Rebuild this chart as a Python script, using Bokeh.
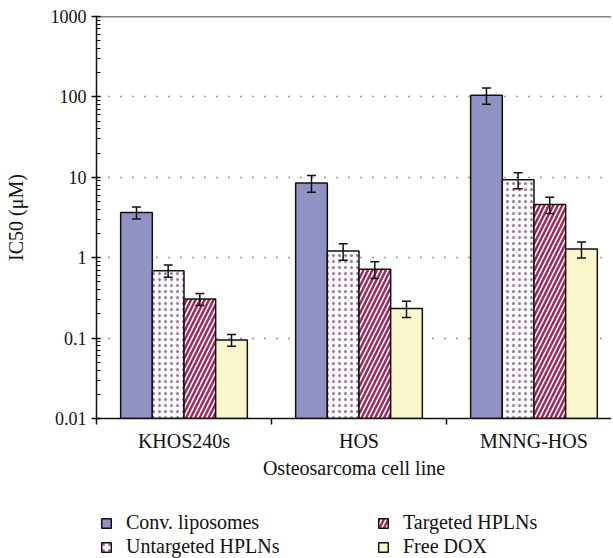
from bokeh.plotting import figure
from bokeh.layouts import column
from bokeh.models import (ColumnDataSource, Whisker, TeeHead, FixedTicker, Span,
                          Legend, LegendItem, CustomJSTickFormatter, Range1d)
from bokeh.embed import file_html
from bokeh.resources import INLINE

cell_lines = ["KHOS240s", "HOS", "MNNG-HOS"]
series = ["Conv. liposomes", "Untargeted HPLNs", "Targeted HPLNs", "Free DOX"]

conv = [3.66, 8.5, 105.0]
untargeted = [0.69, 1.21, 9.3]
targeted = [0.306, 0.72, 4.6]
free_dox = [0.095, 0.234, 1.28]

conv_err = [0.62, 2.0, 24.0]
untargeted_err = [0.12, 0.28, 2.1]
targeted_err = [0.052, 0.17, 1.05]
free_dox_err = [0.016, 0.054, 0.29]

y_ticks = [0.01, 0.1, 1, 10, 100, 1000]

values = [conv, untargeted, targeted, free_dox]
errors = [conv_err, untargeted_err, targeted_err, free_dox_err]

FONT = "Liberation Serif"
BAR_W = 0.181

p = figure(frame_width=515, frame_height=402, y_axis_type="log", output_backend="svg",
           toolbar_location=None, x_range=Range1d(0, 2.943),
           y_range=Range1d(0.01, 1000),
           min_border_left=96, min_border_right=0, min_border_top=16, min_border_bottom=80)
p.outline_line_color = None
p.background_fill_color = "white"
p.border_fill_color = "white"

styles = [
    dict(fill_color="#9191C3"),
    dict(fill_color="white", hatch_pattern=".", hatch_color="#A070A8", hatch_scale=6, hatch_weight=0.7),
    dict(fill_color="white", hatch_pattern="/", hatch_color="#A0285A", hatch_scale=9, hatch_weight=2.5),
    dict(fill_color="#FAF7CD"),
]

for j, (vals, errs, st) in enumerate(zip(values, errors, styles)):
    xs = [i + 0.5 + (j - 1.5) * BAR_W for i in range(len(cell_lines))]
    src = ColumnDataSource(dict(x=xs, top=vals,
                                upper=[v + e for v, e in zip(vals, errs)],
                                lower=[v - e for v, e in zip(vals, errs)]))
    p.vbar(x="x", top="top", bottom=0.01, width=BAR_W, source=src,
           line_color="#111111", line_width=1.5, **st)
    w = Whisker(base="x", upper="upper", lower="lower", source=src, level="annotation",
                line_color="#111111", line_width=1.5,
                upper_head=TeeHead(size=9, line_color="#111111", line_width=1.5),
                lower_head=TeeHead(size=9, line_color="#111111", line_width=1.5))
    p.add_layout(w)

# y axis
yax = p.yaxis[0]
yax.formatter = CustomJSTickFormatter(code="return String(Number(tick.toPrecision(6)));")
yax.axis_label = "IC50 (\u03bcM)"
yax.axis_label_text_font = FONT
yax.axis_label_text_font_style = "normal"
yax.axis_label_text_font_size = "20px"
yax.axis_label_text_color = "#111111"
yax.axis_label_standoff = 21
yax.major_label_text_font = FONT
yax.major_label_text_font_size = "18px"
yax.major_label_text_color = "#111111"
yax.major_tick_in = 4
yax.major_tick_out = 5
yax.minor_tick_in = 4
yax.minor_tick_out = 0
yax.axis_line_width = 1.5
yax.axis_line_color = "#111111"
yax.major_tick_line_color = "#111111"
yax.minor_tick_line_color = "#111111"
yax.major_tick_line_width = 1.5

# x axis
xax = p.xaxis[0]
xax.ticker = FixedTicker(ticks=[i + 0.5 for i in range(len(cell_lines))],
                         minor_ticks=list(range(len(cell_lines) + 1)))
xax.major_label_overrides = {i + 0.5: c for i, c in enumerate(cell_lines)}
xax.major_tick_in = 0
xax.major_tick_out = 0
xax.minor_tick_in = 0
xax.minor_tick_out = 6
xax.minor_tick_line_width = 1.5
xax.minor_tick_line_color = "#111111"
xax.major_label_standoff = 5
xax.major_label_text_font = FONT
xax.major_label_text_font_size = "20px"
xax.major_label_text_color = "#111111"
xax.axis_label = "Osteosarcoma cell line"
xax.axis_label_text_font = FONT
xax.axis_label_text_font_style = "normal"
xax.axis_label_text_font_size = "20px"
xax.axis_label_text_color = "#111111"
xax.axis_label_standoff = 2
xax.axis_line_width = 1.5
xax.axis_line_color = "#111111"

# top border line
p.add_layout(Span(location=1000, dimension="width", line_color="#111111", line_width=1.5))

p.xgrid.grid_line_color = None
p.ygrid.grid_line_color = "#333333"
p.ygrid.grid_line_dash = "1 11"
p.ygrid.grid_line_width = 1.5
p.ygrid.ticker = FixedTicker(ticks=y_ticks)

# legend in a strip below the chart (swatch proxies lie outside the visible range)
lf = figure(width=611, height=60, output_backend="svg", toolbar_location=None,
            x_range=Range1d(0, 1), y_range=Range1d(0, 1),
            x_axis_location=None, y_axis_location=None,
            min_border_left=0, min_border_right=0, min_border_top=0, min_border_bottom=0)
lf.outline_line_color = None
lf.xgrid.visible = False
lf.ygrid.visible = False
items = []
for s, st in zip(series, styles):
    r = lf.vbar(x=[-5], top=[-5], bottom=-6, width=0.1, line_color="#111111", line_width=1.5, **st)
    items.append(LegendItem(label=s, renderers=[r]))
legend = Legend(items=items, location=(4, 0), orientation="vertical", nrows=2,
                label_text_font=FONT, label_text_font_size="20px", label_text_color="#111111",
                glyph_width=12, glyph_height=12, label_height=20, label_standoff=14,
                label_width=250, spacing=1, padding=0, margin=0,
                border_line_color=None, background_fill_alpha=0)
lf.add_layout(legend, "center")

open("out.html", "w").write(file_html(column(p, lf, spacing=0), INLINE))
